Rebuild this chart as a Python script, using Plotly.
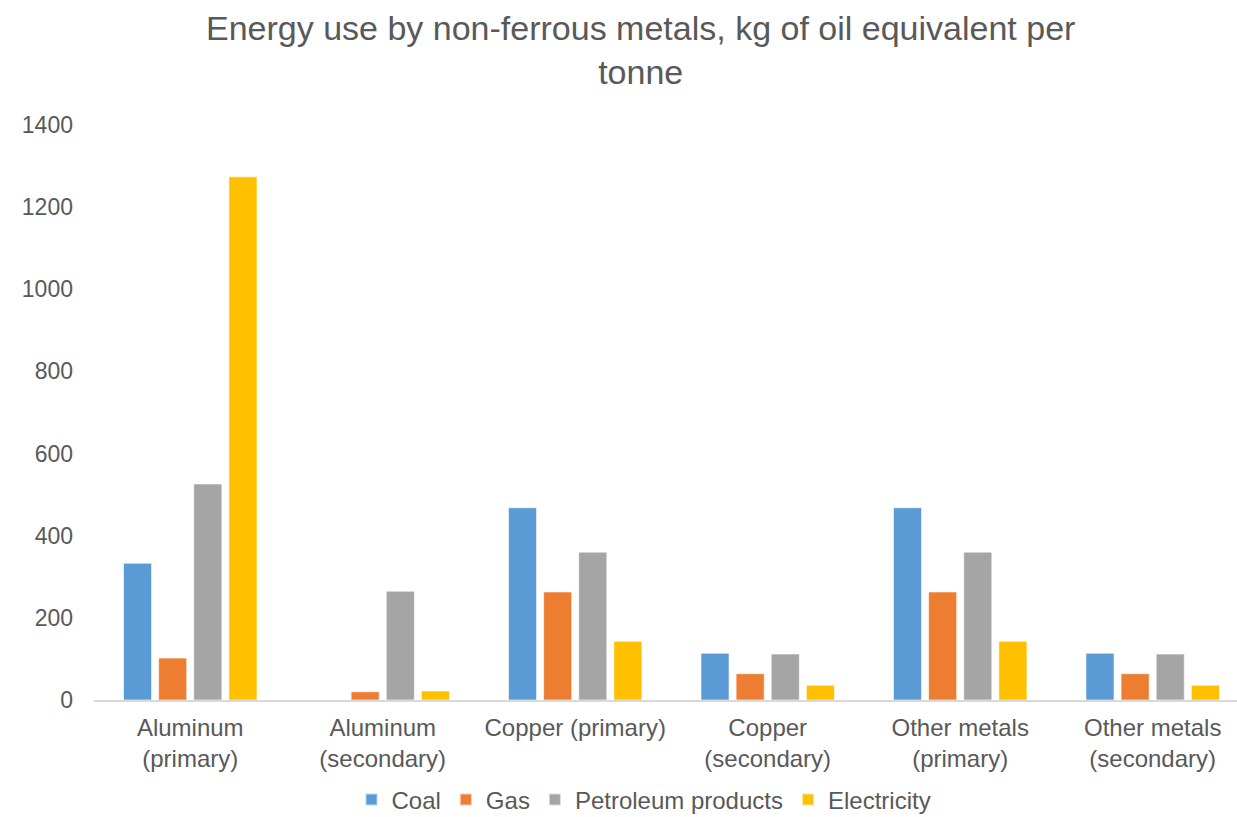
import plotly.graph_objects as go

# Categories and energy use (kg of oil equivalent per tonne)
categories = [
    "Aluminum<br>(primary)",
    "Aluminum<br>(secondary)",
    "Copper (primary)",
    "Copper<br>(secondary)",
    "Other metals<br>(primary)",
    "Other metals<br>(secondary)",
]
coal = [333, 0, 468, 114, 468, 114]
gas = [102, 20, 263, 64, 263, 64]
petroleum = [526, 265, 360, 112, 360, 112]
electricity = [1274, 22, 143, 36, 143, 36]

series_names = ["Coal", "Gas", "Petroleum products", "Electricity"]
series_colors = ["#5B9BD5", "#ED7D31", "#A5A5A5", "#FFC000"]
series_values = [coal, gas, petroleum, electricity]

y_ticks = [0, 200, 400, 600, 800, 1000, 1200, 1400]

chart_title = "Energy use by non-ferrous metals, kg of oil equivalent per<br>tonne"

text_color = "#595959"
font_family = "Liberation Sans, Arial, sans-serif"

fig = go.Figure()
for name, color, vals in zip(series_names, series_colors, series_values):
    fig.add_trace(go.Bar(
        name=name,
        x=list(range(len(categories))),
        y=vals,
        marker=dict(color=color, line=dict(color="rgba(255,255,255,0.6)", width=1)),
    ))

# Two-line chart title placed at the top of the canvas
fig.add_annotation(
    text=chart_title,
    xref="paper", yref="paper",
    x=(640 - 94) / (1237 - 94),
    y=1 + (125 - 7) / (700 - 125),
    xanchor="center", yanchor="top",
    showarrow=False,
    align="center",
    font=dict(size=34, color=text_color, family=font_family),
)

fig.update_layout(
    width=1237,
    height=817,
    paper_bgcolor="white",
    plot_bgcolor="white",
    barmode="group",
    bargap=0.27,
    bargroupgap=0.2,
    margin=dict(l=94, r=0, t=125, b=117),
    font=dict(family=font_family, color=text_color, size=23),
    xaxis=dict(
        tickmode="array",
        tickvals=list(range(len(categories))),
        ticktext=categories,
        range=[-0.5, 5.438],
        showgrid=False,
        showline=True,
        linecolor="#D9D9D9",
        linewidth=2,
        ticks="",
        tickfont=dict(size=24, color=text_color),
        ticklabelstandoff=5,
        zeroline=False,
    ),
    yaxis=dict(
        range=[0, 1400],
        tickmode="array",
        tickvals=y_ticks,
        ticktext=[str(v) for v in y_ticks],
        showgrid=False,
        zeroline=False,
        showline=False,
        ticks="",
        tickfont=dict(size=23, color=text_color),
        ticklabelstandoff=20,
    ),
    legend=dict(
        orientation="h",
        x=644 / 1237,
        xanchor="center",
        xref="container",
        y=(817 - 800) / 817,
        yanchor="middle",
        yref="container",
        font=dict(size=24, color=text_color),
        itemsizing="constant",
        bgcolor="rgba(0,0,0,0)",
    ),
    showlegend=True,
)

fig.write_html("out.html")
